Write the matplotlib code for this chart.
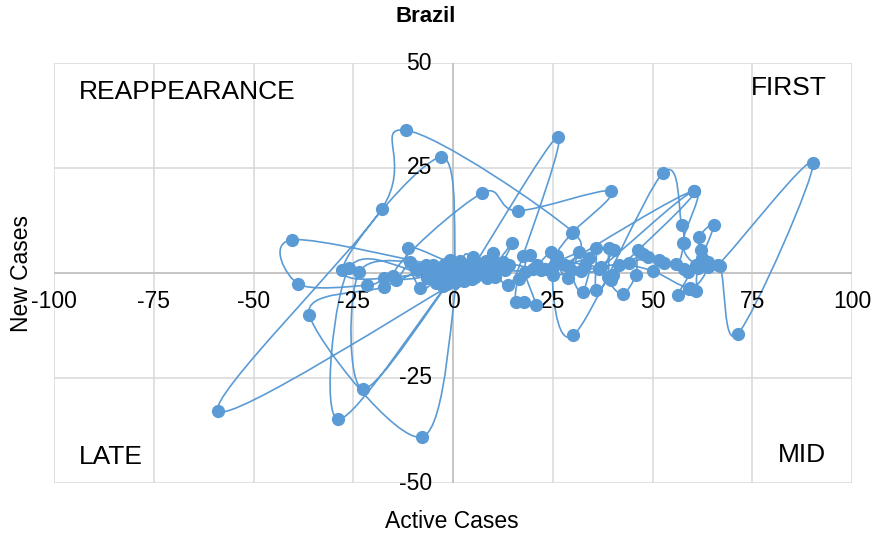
import matplotlib
matplotlib.use("Agg")
import matplotlib.pyplot as plt
from matplotlib.path import Path
from matplotlib.patches import PathPatch
import numpy as np

plt.rcParams['font.family'] = ['Liberation Sans', 'DejaVu Sans']

# Daily trajectory: change in active cases (x) vs change in new cases (y)
active_cases = [
    0.0, 0.3, 0.9, 1.4, 0.8, 2.0, 2.6, 3.3, 2.4, 4.1, 5.1, 4.6, 6.3, 5.6, 7.4, 8.2, 7.0, 9.9, 9.2,
    -1.2, -3.5, -2.0, -5.5, -4.2, -1.0, 1.8, -0.5, -3.0, -6.5, -2.5, 0.6,
    3.0, 26.2, 17.5, 13.7, 11.0, 14.9, 12.5, 10.5,
    4.0, 1.0, -58.8, -17.9, -11.9, 30.0, 25.7, 22.0, 19.4, 18.0, 20.7, 17.7, 15.7, 16.5, 21.0, 24.5,
    23.0, 13.0, 6.0, 2.0,
    -2.0, -40.3, -38.8, -21.5, -17.4, -14.4, -10.7, -8.9, -17.4, -36.0, -7.7, 1.5, 4.5, 3.0, -3.0,
    -8.2, -11.4, 0.5, 5.5,
    -1.5, -4.8, -0.8, 2.8, -2.2, -6.8, -3.8, 1.2, 4.8, 7.8, 5.8, 3.6,
    -4.0, -27.7, -2.9, 0.8, 3.5, 2.2, -5.0, -23.5, -22.5, 0.0, 2.5, -6.0, -26.0, -28.7, 0.5, 6.5,
    8.5, 10.8,
    -15.0, 7.2, 16.2, 39.5, 29.8, 26.0, 28.7, 31.5, 29.5, 32.5, 35.8, 35.8, 38.8, 39.0, 40.3, 37.0,
    33.0,
    25.0, 30.2, 52.6, 57.3, 57.8, 55.8, 48.8, 46.3, 45.8, 42.5, 39.5, 44.0, 51.6, 58.8, 56.3, 59.1,
    60.9, 61.4, 65.4, 61.6, 62.1, 63.9,
    66.4, 90.2, 71.4, 66.8, 61.0, 57.6, 60.4, 36.5, 34.0, 28.0, 60.4, 40.0, 47.5, 53.0, 58.0, 62.5,
    64.0, 59.5, 50.0, 41.5, 32.0, 25.0, 20.0, 14.0, 8.0, 3.0, 1.0,
    -1.8, 0.4, -3.2, 2.6, -0.6, 1.6, 0.2,
]
new_cases = [
    0.0, 0.4, 0.2, 0.9, -0.4, 1.1, 0.3, 1.6, -0.6, 1.3, 3.8, 0.7, 2.0, -0.9, 1.4, 2.9, -0.3, 4.8, 1.2,
    0.8, -1.6, 2.2, 0.4, -2.4, -0.7, 2.8, 1.4, 0.9, -1.2, -3.2, -1.8,
    -1.5, 32.4, 4.0, -2.9, 1.5, 7.1, 2.6, -1.0,
    0.5, -2.0, -32.9, 15.2, 34.0, 9.8, 2.4, 0.8, 4.3, 0.3, -7.6, -6.9, -6.9, -1.5, 1.8, 5.0,
    1.0, 0.6, 1.8, 2.5,
    1.5, 7.9, -2.6, -2.9, -1.2, -1.7, 2.6, 0.7, -3.3, -10.0, -39.0, 1.0, 2.5, -0.5, -1.0,
    -3.6, 6.0, 2.0, 1.2,
    -2.6, 1.0, 3.2, -1.8, -0.2, 1.9, -2.1, 0.9, -1.4, 0.2, 2.6, -0.8,
    0.0, 0.7, 27.6, 0.8, 1.8, -1.2, 1.8, 0.2, -27.6, -1.0, 0.6, -0.5, 1.2, -34.8, -0.5, 0.8,
    -1.2, 2.4,
    -0.8, 19.0, 14.8, 19.5, 9.5, 4.0, -1.2, 5.0, 0.7, -4.5, 6.0, -4.0, -1.0, 6.0, 5.5, 1.5,
    2.0,
    1.5, -14.8, 23.8, 11.4, 7.1, 2.1, 3.8, 5.5, -0.5, -5.0, -1.7, 2.5, 3.1, 0.2, -5.2, -3.8,
    -4.3, 1.2, 11.4, 8.6, 5.5, 2.6,
    1.9, 26.2, -14.5, 1.6, 2.0, 7.1, 19.5, 1.0, 3.5, 2.0, 19.5, -0.5, 4.5, 2.5, 1.0, 3.5,
    1.5, -3.5, 0.5, 2.0, 0.5, -0.5, 1.0, 2.0, 0.5, 1.0, 0.2,
    -1.0, -2.2, 0.6, -0.9, 1.3, 0.1, -0.4,
]

x_ticks = [-100, -75, -50, -25, 0, 25, 50, 75, 100]
y_ticks = [-50, -25, 0, 25, 50]
quadrants = {"REAPPEARANCE": (79, 92, "left"), "FIRST": (827, 88, "right"),
             "LATE": (79, 457, "left"), "MID": (826, 455, "right")}

BLUE = "#5B9BD5"
W, H = 874, 541

fig = plt.figure(figsize=(W / 100, H / 100), dpi=100)
L, R, T, B = 54, 852, 63, 483
ax = fig.add_axes([L / W, 1 - B / H, (R - L) / W, (B - T) / H])
ax.set_xlim(-100, 100)
ax.set_ylim(-50, 50)

# grid
for xv in x_ticks:
    ax.axvline(xv, color="#D9D9D9", lw=1.1, zorder=0)
for yv in y_ticks:
    ax.axhline(yv, color="#D9D9D9", lw=1.1, zorder=0)
ax.axvline(0, color="#BFBFBF", lw=1.1, zorder=0.5)
ax.axhline(0, color="#BFBFBF", lw=1.1, zorder=0.5)
for s in ax.spines.values():
    s.set_visible(False)
ax.set_xticks([])
ax.set_yticks([])

# tick labels along the zero axes
for xv in x_ticks:
    ax.annotate(f"{xv}", (xv, 0), xytext=(0, -29), textcoords="offset pixels",
                ha="center", va="center", fontsize=16.5, color="#000000")
for yv in y_ticks:
    ax.annotate(f"{yv}", (0, yv), xytext=(-21, 0), textcoords="offset pixels",
                ha="right", va="center", fontsize=16.5, color="#000000")

# smoothed line through the points (cubic Bezier, Catmull-Rom style tangents)
pts = np.column_stack([active_cases, new_cases])
n = len(pts)
verts = [tuple(pts[0])]
codes = [Path.MOVETO]
for i in range(n - 1):
    p0 = pts[max(i - 1, 0)]
    p1 = pts[i]
    p2 = pts[i + 1]
    p3 = pts[min(i + 2, n - 1)]
    c1 = p1 + (p2 - p0) / 6.0
    c2 = p2 - (p3 - p1) / 6.0
    verts += [tuple(c1), tuple(c2), tuple(p2)]
    codes += [Path.CURVE4] * 3
ax.add_patch(PathPatch(Path(verts, codes), fill=False, edgecolor=BLUE, lw=1.2, zorder=2))
ax.plot(active_cases, new_cases, "o", color=BLUE, ms=8.5, mec=BLUE, zorder=3, clip_on=False)

for txt, (px, py, ha) in quadrants.items():
    fig.text(px / W, 1 - py / H, txt, ha=ha, va="center", fontsize=19, color="#000000")

fig.text(426 / W, 1 - 17 / H, "Brazil", ha="center", va="center", fontsize=16, fontweight="bold")
fig.text(452 / W, 1 - 521 / H, "Active Cases", ha="center", va="center", fontsize=16.5)
fig.text(22 / W, 1 - 273 / H, "New Cases", ha="center", va="center", fontsize=16.5, rotation=90)

fig.savefig("out.png", dpi=100, facecolor="white")
